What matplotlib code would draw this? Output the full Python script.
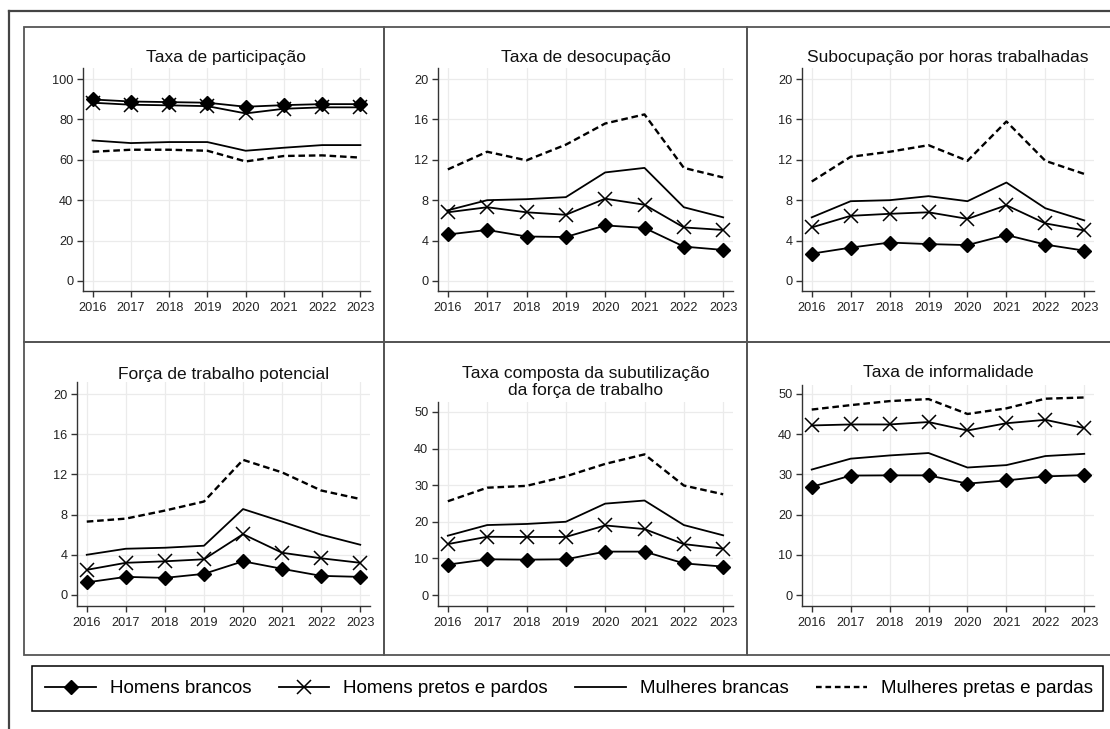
import matplotlib.pyplot as plt
from matplotlib.lines import Line2D
from matplotlib.patches import Rectangle

plt.rcParams["font.family"] = ["Liberation Sans", "DejaVu Sans"]

W, H = 1110, 729

anos = [2016, 2017, 2018, 2019, 2020, 2021, 2022, 2023]

grupos = [
    "Homens brancos",
    "Homens pretos e pardos",
    "Mulheres brancas",
    "Mulheres pretas e pardas",
]

# Taxa de participação (%)
part_hb = [89.9, 88.9, 88.6, 88.3, 86.3, 87.1, 87.6, 87.6]
part_hp = [88.3, 87.3, 87.0, 86.6, 83.0, 85.3, 86.0, 86.0]
part_mb = [69.6, 68.3, 68.8, 68.8, 64.5, 66.0, 67.3, 67.3]
part_mp = [64.0, 65.0, 65.0, 64.5, 59.2, 61.9, 62.2, 61.1]

# Taxa de desocupação (%)
deso_hb = [4.6, 5.05, 4.4, 4.35, 5.5, 5.25, 3.4, 3.07]
deso_hp = [6.8, 7.3, 6.8, 6.55, 8.15, 7.55, 5.3, 5.05]
deso_mb = [7.0, 8.0, 8.1, 8.3, 10.75, 11.2, 7.3, 6.3]
deso_mp = [11.05, 12.8, 11.95, 13.5, 15.6, 16.5, 11.2, 10.25]

# Subocupação por horas trabalhadas (%)
subo_hb = [2.7, 3.3, 3.8, 3.65, 3.55, 4.55, 3.6, 3.0]
subo_hp = [5.3, 6.45, 6.65, 6.8, 6.15, 7.5, 5.7, 5.0]
subo_mb = [6.3, 7.9, 8.0, 8.4, 7.9, 9.75, 7.2, 6.0]
subo_mp = [9.85, 12.3, 12.8, 13.45, 11.9, 15.8, 11.9, 10.6]

# Força de trabalho potencial (%)
ftp_hb = [1.25, 1.8, 1.7, 2.1, 3.35, 2.6, 1.9, 1.8]
ftp_hp = [2.5, 3.2, 3.35, 3.55, 6.05, 4.2, 3.65, 3.2]
ftp_mb = [4.0, 4.6, 4.7, 4.9, 8.55, 7.3, 6.0, 5.0]
ftp_mp = [7.3, 7.6, 8.4, 9.3, 13.45, 12.2, 10.4, 9.55]

# Taxa composta da subutilização (%)
comp_hb = [8.3, 9.75, 9.65, 9.75, 11.85, 11.85, 8.65, 7.75]
comp_hp = [13.9, 15.9, 15.85, 15.85, 19.0, 18.0, 13.9, 12.65]
comp_mb = [16.2, 19.1, 19.4, 20.0, 24.95, 25.8, 19.1, 16.3]
comp_mp = [25.6, 29.3, 29.8, 32.4, 35.8, 38.4, 29.9, 27.5]

# Taxa de informalidade (%)
info_hb = [26.9, 29.7, 29.75, 29.75, 27.7, 28.5, 29.5, 29.8]
info_hp = [42.15, 42.4, 42.4, 43.0, 40.9, 42.7, 43.55, 41.5]
info_mb = [31.2, 33.9, 34.7, 35.3, 31.7, 32.3, 34.55, 35.1]
info_mp = [46.1, 47.2, 48.2, 48.7, 45.0, 46.4, 48.8, 49.1]

ticks_100 = [0, 20, 40, 60, 80, 100]
ticks_20 = [0, 4, 8, 12, 16, 20]
ticks_50 = [0, 10, 20, 30, 40, 50]

# (title, series, yticks, ylim, axes box in px: left, top, right, bottom, title baselines px)
paineis = [
    ("Taxa de participação", (part_hb, part_hp, part_mb, part_mp),
     ticks_100, (-5, 105.5), (83, 68, 370, 291), [62]),
    ("Taxa de desocupação", (deso_hb, deso_hp, deso_mb, deso_mp),
     ticks_20, (-1, 21.1), (438, 68, 733, 291), [62]),
    ("Subocupação por horas trabalhadas", (subo_hb, subo_hp, subo_mb, subo_mp),
     ticks_20, (-1, 21.1), (802, 68, 1094, 291), [62]),
    ("Força de trabalho potencial", (ftp_hb, ftp_hp, ftp_mb, ftp_mp),
     ticks_20, (-1.1, 21.2), (77, 382, 370, 606), [379]),
    ("Taxa composta da subutilização\nda força de trabalho", (comp_hb, comp_hp, comp_mb, comp_mp),
     ticks_50, (-3, 52.7), (438, 402, 733, 606), [378, 395]),
    ("Taxa de informalidade", (info_hb, info_hp, info_mb, info_mp),
     ticks_50, (-2.7, 52.2), (802, 385, 1094, 606), [377]),
]

estilos = [
    dict(color="black", lw=1.3, marker="D", ms=7.5, mfc="black", mec="black"),
    dict(color="black", lw=1.3, marker="x", ms=10, mew=1.1),
    dict(color="black", lw=1.3),
    dict(color="black", lw=1.7, ls=(0, (2.8, 1.6))),
]

INK = "#222222"
FRAME = "#555555"


def fx(x):
    return x / W


def fy(y):
    return 1 - y / H


fig = plt.figure(figsize=(W / 100, H / 100), dpi=100)
fig.patch.set_facecolor("white")

# outer graph region frame (left and top edges visible)
fig.add_artist(Line2D([fx(9), fx(9)], [fy(11), fy(740)], color="#444444", lw=1.6))
fig.add_artist(Line2D([fx(9), fx(1120)], [fy(11), fy(11)], color="#444444", lw=1.6))

# panel boxes
xs = [24, 384, 747, 1116]
ys = [27, 342, 655]
for r in range(2):
    for c in range(3):
        fig.add_artist(Rectangle((fx(xs[c]), fy(ys[r + 1])),
                                 fx(xs[c + 1]) - fx(xs[c]), fy(ys[r]) - fy(ys[r + 1]),
                                 transform=fig.transFigure, fill=False,
                                 edgecolor=FRAME, lw=1.3))

for title, series, yticks, ylim, box, baselines in paineis:
    left, top, right, bottom = box
    ax = fig.add_axes([fx(left), fy(bottom), fx(right) - fx(left), fy(top) - fy(bottom)])
    for valores, st in zip(series, estilos):
        ax.plot(anos, valores, **st, zorder=3)
    ax.set_xlim(2015.75, 2023.25)
    ax.set_ylim(*ylim)
    ax.set_xticks(anos)
    ax.set_yticks(yticks)
    ax.grid(True, color="#ebebeb", lw=0.9, zorder=0)
    ax.set_axisbelow(True)
    for side in ("top", "right"):
        ax.spines[side].set_visible(False)
    for side in ("left", "bottom"):
        ax.spines[side].set_color("#333333")
        ax.spines[side].set_linewidth(1.0)
    ax.tick_params(axis="both", direction="out", length=4, width=1.0,
                   color="#333333", labelsize=9.2, labelcolor=INK)
    ax.tick_params(axis="x", pad=4)
    ax.tick_params(axis="y", pad=3)
    cx = (left + right) / 2
    for linha, base in zip(title.split("\n"), baselines):
        fig.text(fx(cx), fy(base), linha, ha="center", va="baseline",
                 fontsize=12.5, color="#111111")

# legend
fig.add_artist(Rectangle((fx(32), fy(711)), fx(1103) - fx(32), fy(666) - fy(711),
                         transform=fig.transFigure, fill=False,
                         edgecolor="black", lw=1.1))
handles = [Line2D([], [], **st) for st in estilos]
handles[3] = Line2D([], [], color="black", lw=1.7, ls=(0, (2.4, 1.6)))
fig.legend(handles, grupos, loc="center", bbox_to_anchor=(fx(569), fy(688.5)),
           ncol=4, frameon=False, fontsize=13.5, handlelength=2.7,
           handletextpad=0.75, columnspacing=1.45, borderpad=0)

fig.savefig("out.png", dpi=100)
